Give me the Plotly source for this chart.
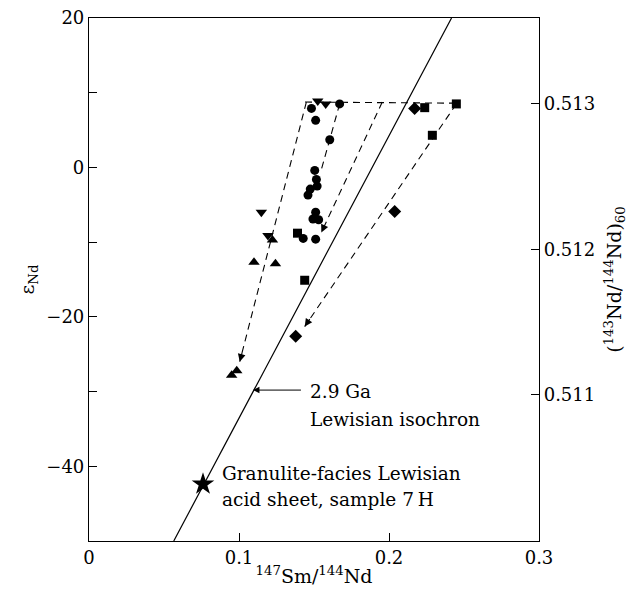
import plotly.graph_objects as go

# ---- data ----
circle_x = [0.1483, 0.1671, 0.1511, 0.1605, 0.1505, 0.1516, 0.1521, 0.1475, 0.1460,
            0.1511, 0.1493, 0.1531, 0.1428, 0.1511]
circle_y = [7.9, 8.5, 6.3, 3.7, -0.4, -1.6, -2.5, -2.9, -3.7, -6.0, -6.9, -7.0, -9.5, -9.6]

square_x = [0.1390, 0.1438, 0.2238, 0.2449, 0.2289]
square_y = [-8.8, -15.1, 8.0, 8.5, 4.3]

diamond_x = [0.2171, 0.2038, 0.1378]
diamond_y = [7.9, -5.9, -22.6]

tri_down_x = [0.1525, 0.1578, 0.1149, 0.1193]
tri_down_y = [8.9, 8.5, -6.0, -9.1]

tri_up_x = [0.1223, 0.1100, 0.1243, 0.0951, 0.0985]
tri_up_y = [-9.7, -12.7, -12.9, -27.8, -27.2]

star_x = [0.076]
star_y = [-42.4]

# 2.9 Ga Lewisian isochron
iso_x = [0.0565, 0.2417]
iso_y = [-50, 20]

# dashed evolution paths (start -> arrow tip); top bar has no arrow
top_x = [0.1440, 0.2449]
top_y = [8.75, 8.6]
path_x = [[0.1449, 0.1005], [0.1671, 0.1549], [0.1955, 0.1549], [0.2449, 0.1438]]
path_y = [[8.75, -26.0], [8.5, -0.3], [8.75, -8.7], [8.5, -21.3]]

# label arrow pointing at the isochron (tail -> tip)
lab_arrow_x = [0.1423, 0.1093]
lab_arrow_y = [-29.8, -29.8]

# axes
x_ticks = [0, 0.1, 0.2, 0.3]
x_ticklabels = ["0", "0.1", "0.2", "0.3"]
y_ticks = [20, 0, -20, -40]
y_ticklabels = ["20", "0", "\u221220", "\u221240"]
y_minor = [10, -10, -30]
y_range = [-50, 20]
CHUR60 = 0.512561
y2_ticks = [0.511, 0.512, 0.513]
y2_ticklabels = ["0.511", "0.512", "0.513"]

FONT = "DejaVu Serif"

fig = go.Figure()

fig.add_trace(go.Scatter(x=iso_x, y=iso_y, mode="lines",
                         line=dict(color="black", width=1.2), showlegend=False))

fig.add_trace(go.Scatter(x=top_x, y=top_y, mode="lines",
                         line=dict(color="black", width=1.1, dash="7px,5px"), showlegend=False))
for px, py in zip(path_x, path_y):
    fig.add_trace(go.Scatter(x=px, y=py, mode="lines",
                             line=dict(color="black", width=1.1, dash="7px,5px"),
                             showlegend=False))
    # arrow head on the last bit of the path
    fx = px[1] + (px[0] - px[1]) * 0.04
    fy = py[1] + (py[0] - py[1]) * 0.04
    fig.add_annotation(x=px[1], y=py[1], ax=fx, ay=fy, axref="x", ayref="y",
                       xref="x", yref="y", text="", showarrow=True,
                       arrowhead=2, arrowsize=1.4, arrowwidth=1.1, arrowcolor="black",
                       standoff=0, startstandoff=0)

fig.add_annotation(x=lab_arrow_x[1], y=lab_arrow_y[1], ax=lab_arrow_x[0], ay=lab_arrow_y[0],
                   axref="x", ayref="y", xref="x", yref="y", text="", showarrow=True,
                   arrowhead=2, arrowsize=1.3, arrowwidth=1, arrowcolor="black", standoff=0)

def marks(x, y, sym, size):
    fig.add_trace(go.Scatter(x=x, y=y, mode="markers",
                             marker=dict(symbol=sym, size=size, color="black",
                                         line=dict(width=0)), showlegend=False))

marks(circle_x, circle_y, "circle", 9)
marks(square_x, square_y, "square", 9)
marks(diamond_x, diamond_y, "diamond", 10)
marks(tri_down_x, tri_down_y, "triangle-down", 10)
marks(tri_up_x, tri_up_y, "triangle-up", 10)
marks(star_x, star_y, "star", 17)

# invisible trace to anchor the right-hand axis
fig.add_trace(go.Scatter(x=[iso_x[0]], y=[CHUR60], yaxis="y2", mode="markers",
                         marker=dict(opacity=0), showlegend=False, hoverinfo="skip"))

txt = dict(showarrow=False, xanchor="left", yanchor="middle",
           font=dict(family=FONT, size=18.5, color="black"))
fig.add_annotation(x=0.1458, y=-30.0, text="2.9 Ga", **txt)
fig.add_annotation(x=0.1458, y=-33.7, text="Lewisian isochron", **txt)
fig.add_annotation(x=0.0871, y=-41.0, text="Granulite-facies Lewisian", **txt)
fig.add_annotation(x=0.0871, y=-44.5, text="acid sheet, sample 7\u2009H", **txt)

axis_common = dict(showline=True, linecolor="black", linewidth=1.2, ticks="inside",
                   ticklen=8, tickcolor="black", tickwidth=1, showgrid=False,
                   zeroline=False, automargin=False, ticklabeloverflow="allow",
                   tickfont=dict(family=FONT, size=18, color="black"))

fig.update_layout(
    width=620, height=584,
    margin=dict(l=81, r=89, t=10, b=51),
    plot_bgcolor="white", paper_bgcolor="white",
    font=dict(family=FONT, color="black"),
    xaxis=dict(range=[0, 0.3], tickvals=x_ticks, ticktext=x_ticklabels, mirror=True,
               title=dict(text="<sup>147</sup>Sm/<sup>144</sup>Nd",
                          font=dict(family=FONT, size=19), standoff=2),
               **axis_common),
    yaxis=dict(range=y_range, tickvals=y_ticks, ticktext=y_ticklabels,
               minor=dict(tickvals=y_minor, ticks="inside", ticklen=8,
                          tickcolor="black", tickwidth=1, showgrid=False),
               title=dict(text="\u03b5<sub>Nd</sub>", font=dict(family=FONT, size=19),
                          standoff=6),
               **axis_common),
    yaxis2=dict(overlaying="y", side="right",
                range=[CHUR60 * (1 + y_range[0] / 1e4), CHUR60 * (1 + y_range[1] / 1e4)],
                tickvals=y2_ticks, ticktext=y2_ticklabels,
                title=dict(text="(<sup>143</sup>Nd/<sup>144</sup>Nd)<sub>60</sub>",
                           font=dict(family=FONT, size=19), standoff=18),
                **axis_common),
)

fig.write_html("out.html")
